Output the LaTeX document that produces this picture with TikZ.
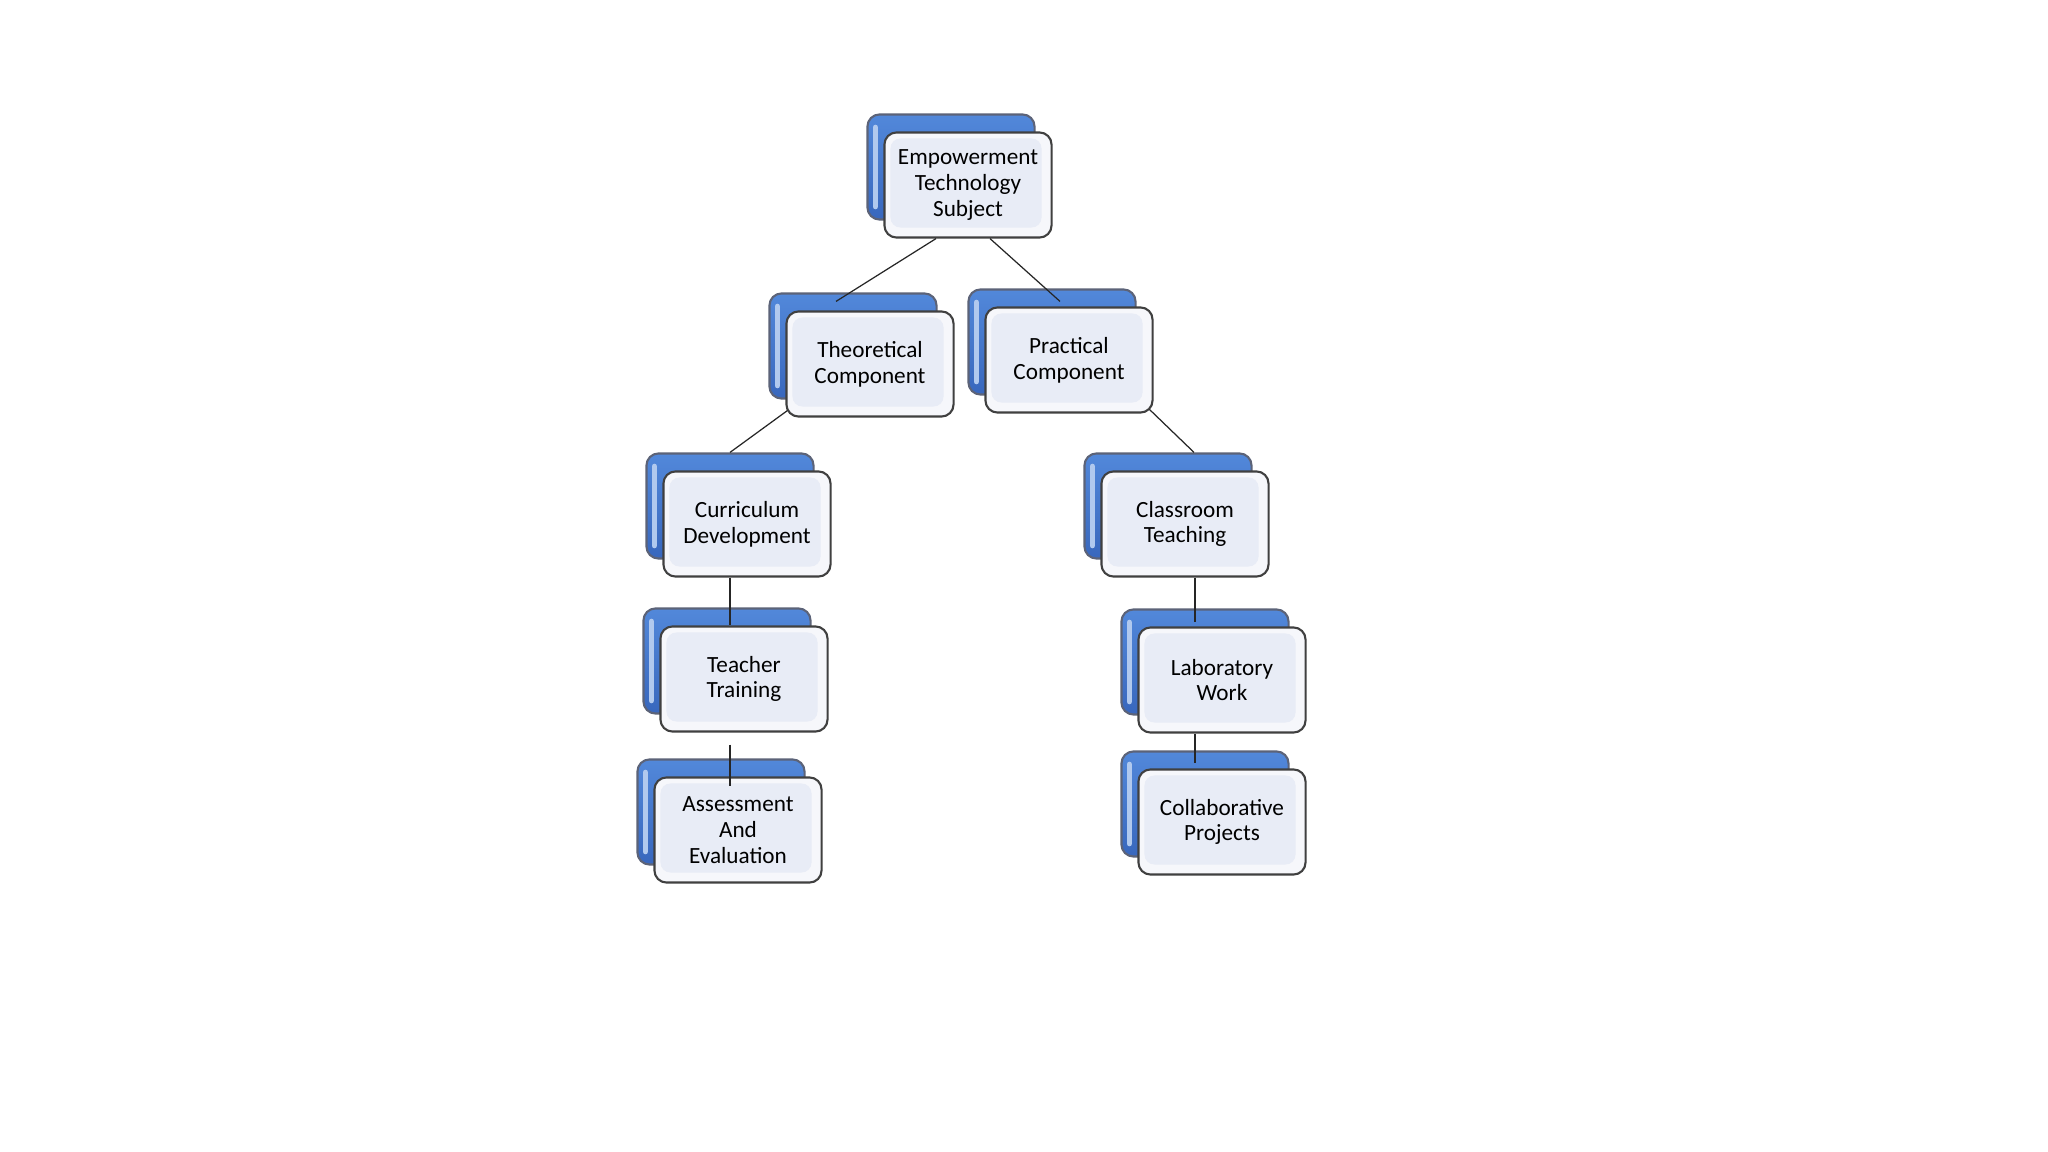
\documentclass[tikz,border=0pt]{standalone}
\usepackage{fontspec}
\setmainfont{Carlito}
\usetikzlibrary{calc}
\definecolor{boxblue}{HTML}{5288DA}
\definecolor{boxbluedark}{HTML}{3867BD}
\definecolor{boxedge}{HTML}{5C6378}
\definecolor{frontfill}{HTML}{E8ECF6}
\tikzset{
	backbox/.style={rounded corners=0.12cm, draw=boxedge, line width=0.6pt,
		top color=boxblue, bottom color=boxbluedark,
		minimum width=1.67cm, minimum height=1.05cm, inner sep=0pt,
		path picture={\draw[white!55!boxblue, line width=1.6pt, line cap=round]
			([xshift=0.08cm,yshift=-0.13cm]path picture bounding box.north west) --
			([xshift=0.08cm,yshift=0.13cm]path picture bounding box.south west);}},
	frontbox/.style={rounded corners=0.12cm, draw=black!75, line width=0.6pt,
		fill=white!60!frontfill, minimum width=1.67cm, minimum height=1.05cm,
		inner sep=0pt, align=center, font=\fontsize{6.6}{7.3}\selectfont,
		path picture={\fill[frontfill, rounded corners=0.1cm]
			([xshift=0.06cm,yshift=-0.06cm]path picture bounding box.north west) rectangle
			([xshift=-0.1cm,yshift=0.1cm]path picture bounding box.south east);}},
	link/.style={draw=black!85, line width=0.35pt}
}

\begin{document}
\begin{tikzpicture}[x=0.01cm, y=-0.01cm]
	\useasboundingbox[fill=white] (0,0) rectangle (2048,1152);
	% back boxes
	\node [backbox] (etsb) at (951,167) {};
	\node [backbox] (theob) at (853,346) {};
	\node [backbox] (pracb) at (1052,342) {};
	\node [backbox] (currb) at (730,506) {};
	\node [backbox] (classb) at (1168,506) {};
	\node [backbox] (teachb) at (727,661) {};
	\node [backbox] (labb) at (1205,662) {};
	\node [backbox] (assessb) at (721,812) {};
	\node [backbox] (collabb) at (1205,804) {};
	% front boxes
	\node [frontbox] (ets) at (968,185) {Empowerment\\Technology\\Subject};
	\node [frontbox] (theo) at (870,364) {Theoretical\\Component};
	\node [frontbox] (prac) at (1069,360) {Practical\\Component};
	\node [frontbox] (curr) at (747,524) {Curriculum\\Development};
	\node [frontbox] (class) at (1185,524) {Classroom\\Teaching};
	\node [frontbox] (teach) at (744,679) {Teacher\\Training};
	\node [frontbox] (lab) at (1222,680) {Laboratory\\Work};
	\node [frontbox] (assess) at (738,830) {Assessment\\And\\Evaluation};
	\node [frontbox] (collab) at (1222,822) {Collaborative\\Projects};
	% connectors
	\draw [link] ($(ets.south)+(-32,0)$) -- ($(theob.north)+(-17,9)$);
	\draw [link] ($(ets.south)+(22,0)$) -- ($(pracb.north)+(8,13)$);
	\draw [link] ($(theo.south west)+(2,-7)$) -- (currb.north);
	\draw [link] ($(prac.south east)+(-4,-4)$) -- ($(classb.north)+(26,0)$);
	\draw [link] (currb.south |- curr.south) -- (currb.south |- teach.north);
	\draw [link] ($(teach.south)+(-14,12)$) -- ($(assess.north)+(-8,10)$);
	\draw [link] ($(class.south)+(10,0)$) -- ($(lab.north)+(-27,-4)$);
	\draw [link] ($(lab.south)+(-27,0)$) -- ($(collab.north)+(-27,-5)$);
\end{tikzpicture}
\end{document}
